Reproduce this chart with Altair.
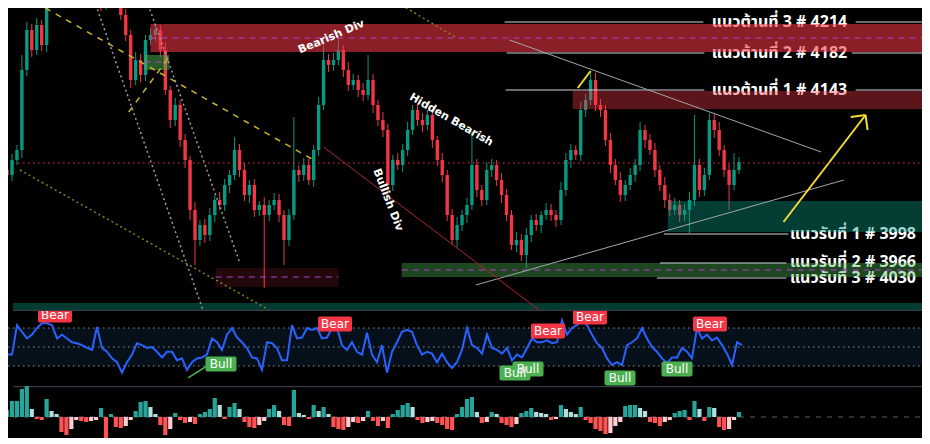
import altair as alt
import pandas as pd

# ---------------- data ----------------
first_open = 4066
closes = [
    4061, 4076, 4086, 4166, 4206, 4186, 4211, 4191, 4246, 4266,
    4276, 4271, 4286, 4276, 4291, 4281, 4266, 4256, 4246, 4231,
    4251, 4261, 4246, 4221, 4201, 4156, 4176, 4161, 4196, 4201,
    4206, 4186, 4146, 4116, 4131, 4096, 4076, 4026, 3996, 4011,
    4001, 4021, 4036, 4031, 4051, 4061, 4086, 4066, 4041, 4051,
    4026, 4031, 4021, 4031, 4036, 4021, 3996, 4021, 4066, 4061,
    4071, 4056, 4086, 4131, 4176, 4171, 4176, 4186, 4166, 4151,
    4156, 4146, 4141, 4156, 4131, 4116, 4106, 4051, 4076, 4071,
    4086, 4106, 4126, 4116, 4111, 4121, 4096, 4076, 4061, 4021,
    3996, 4011, 4021, 4031, 4071, 4046, 4036, 4066, 4071, 4056,
    4041, 4021, 3991, 3996, 3981, 4001, 4016, 4011, 4021, 4026,
    4021, 4016, 4046, 4076, 4086, 4081, 4126, 4136, 4156, 4131,
    4126, 4096, 4071, 4056, 4041, 4051, 4061, 4071, 4106, 4096,
    4086, 4066, 4051, 4036, 4026, 4031, 4021, 4026, 4036, 4071,
    4046, 4061, 4116, 4106, 4086, 4066, 4051, 4066, 4074,
]
wick_up = [
    4, 6, 5, 15, 8, 6, 7, 5, 6, 5,
    6, 5, 4, 6, 5, 7, 5, 6, 4, 8,
    5, 6, 4, 7, 6, 5, 8, 6, 5, 7,
    6, 5, 8, 4, 7, 5, 6, 4, 8, 5,
    6, 7, 5, 8, 6, 5, 13, 6, 7, 5,
    6, 4, 8, 5, 7, 6, 5, 6, 53, 5,
    7, 6, 5, 8, 20, 6, 7, 12, 5, 8,
    6, 5, 7, 25, 6, 5, 8, 6, 5, 7,
    6, 8, 5, 6, 7, 5, 6, 4, 7, 5,
    6, 8, 5, 7, 33, 6, 5, 8, 6, 5,
    7, 6, 5, 8, 6, 7, 5, 6, 4, 7,
    6, 5, 8, 7, 6, 5, 8, 6, 9, 7,
    6, 5, 7, 6, 8, 5, 7, 6, 8, 5,
    6, 7, 5, 8, 6, 7, 5, 6, 8, 50,
    6, 7, 7, 6, 8, 5, 6, 17, 5,
]
wick_dn = [
    30, 6, 5, 8, 6, 7, 5, 6, 7, 5,
    6, 7, 5, 6, 7, 5, 6, 5, 7, 6,
    5, 6, 7, 5, 6, 8, 5, 7, 6, 5,
    6, 7, 5, 8, 6, 7, 8, 10, 25, 6,
    8, 6, 7, 5, 6, 8, 5, 7, 6, 8,
    7, 6, 73, 6, 5, 7, 25, 6, 5, 7,
    6, 5, 7, 6, 5, 7, 6, 5, 7, 6,
    5, 7, 6, 5, 8, 6, 7, 8, 6, 5,
    7, 6, 5, 6, 7, 5, 8, 6, 7, 6,
    5, 7, 6, 8, 5, 7, 6, 5, 7, 6,
    8, 6, 5, 7, 6, 13, 7, 6, 8, 5,
    6, 7, 5, 6, 8, 5, 6, 7, 5, 6,
    7, 6, 8, 5, 7, 6, 5, 7, 6, 8,
    5, 7, 6, 8, 6, 5, 7, 6, 23, 6,
    7, 6, 5, 8, 6, 7, 25, 5, 4,
]
rsi = [
    34, 42, 42, 73, 66, 59, 63, 70, 75, 75,
    73, 59, 63, 59, 55, 54, 52, 49, 47, 71,
    49, 45, 38, 34, 23, 34, 42, 54, 52, 49,
    50, 45, 39, 45, 45, 36, 38, 26, 34, 38,
    39, 42, 59, 55, 47, 63, 70, 60, 55, 49,
    39, 38, 26, 55, 54, 49, 36, 36, 73, 59,
    60, 70, 68, 70, 59, 60, 70, 70, 52, 47,
    55, 45, 42, 65, 42, 34, 52, 23, 45, 55,
    66, 68, 66, 52, 42, 45, 43, 34, 43, 34,
    28, 34, 47, 70, 52, 49, 43, 63, 49, 47,
    43, 49, 36, 42, 39, 49, 59, 55, 55, 57,
    54, 55, 78, 63, 70, 73, 78, 73, 63, 54,
    49, 38, 31, 34, 31, 52, 55, 59, 70, 59,
    50, 45, 38, 33, 39, 39, 49, 45, 38, 70,
    59, 63, 57, 60, 52, 43, 31, 55, 52,
]
hist = [
    7, 16, 16, 28, 31, 8, -2, -3, 18, 6,
    3, -15, -18, -12, -3, -4, -5, -4, -3, 9,
    -21, 3, -10, -11, -9, -3, 6, 15, 16, 10,
    3, -8, -18, -12, 4, -3, -6, -5, -7, 3,
    5, 8, 19, 12, -2, 10, 14, 8, -5, -10,
    -11, -8, -4, 8, 12, 6, -8, -9, 27, 4,
    2, -2, 12, 6, 10, 3, -10, -12, -13, -10,
    -5, -6, -4, 6, -4, -9, -4, -11, 3, 7,
    12, 14, 10, -3, -6, -5, -4, -6, -8, -12,
    -13, 3, 10, 18, 20, 5, -6, -5, 5, 3,
    -6, -8, -10, -7, 4, 6, 9, 5, 4, 3,
    -3, -2, 12, 8, 5, 3, 10, -3, -6, -12,
    -14, -17, -16, -9, -5, 11, 12, 12, 9, 6,
    -5, -6, -9, -5, -3, 4, 6, 7, -3, 16,
    8, -4, 10, 9, -10, -13, -12, -3, 5,
]

# zones (bar index / price), drawn translucent over the candles
zone_x1 = [29, 27.8, 42.2, 79.8, 114.4, 133.6, 1.2]
zone_x2 = [185.6, 32.8, 67.0, 185.6, 185.2, 185.6, 185.6]
zone_top = [4212, 4181, 3968, 3973, 4145, 4035, 3933]
zone_bot = [4184, 4166, 3949, 3959, 4127, 4004, 3926]
zone_col = ["#f23645", "#4caf50", "#f23645", "#4caf50", "#f23645", "#089981", "#089981"]
zone_op = [0.57, 0.52, 0.14, 0.40, 0.38, 0.40, 0.39]

mid_x1 = [29, 27.8, 42.2, 79.8]
mid_x2 = [185.6, 32.8, 67.0, 185.6]
mid_y = [4198, 4174, 3959, 3966]

lev_x1 = [100.6, 171.6, 101.0, 170.8, 100.8, 171.6, 132.8, 132.0, 131.4]
lev_x2 = [140.8, 185.6, 141.0, 185.6, 141.0, 185.6, 158.0, 157.6, 157.6]
lev_y = [4214, 4214, 4183, 4183, 4146, 4146, 4002, 3973, 3958]

res_labels = ["แนวต้านที่ 3 # 4214", "แนวต้านที่ 2 # 4182", "แนวต้านที่ 1 # 4143"]
res_y = [4214, 4183, 4146]
sup_labels = ["แนวรับที่ 1 # 3998", "แนวรับที่ 2 # 3966", "แนวรับที่ 3 # 4030"]
sup_y = [4002, 3974, 3958]

# trend segments: x1, y1, x2, y2, style
seg_x1 = [101.6, 94.8, 157.0, 170.6, 173.6, 115.4, 64.0, 5.6, 24.6, 2.6, 78.0, 17.6, 28.2, 1.2]
seg_y1 = [4196, 3951, 4014, 4119, 4121, 4148, 4089, 4234, 4124, 4066, 4236, 4236, 4236, 4073]
seg_x2 = [164.6, 169.2, 173.6, 173.6, 174.0, 118.0, 107.6, 62.0, 32.6, 53.0, 90.6, 39.6, 47.0, 185.6]
seg_y2 = [4084, 4056, 4121, 4121, 4106, 4165, 3926, 4076, 4178, 3926, 4199, 3926, 3974, 4073]
seg_style = ["gray", "gray", "yellow", "yellow", "yellow", "yellow", "red",
             "ydash", "ydash", "olive", "olive", "gdot", "gdot", "price"]

notes = ["Bearish Div", "Hidden Bearish", "Bullish Div"]
note_x = [65.6, 89.8, 77.0]
note_y = [4199, 4116, 4036]
note_angle = [337, 30, 69]

lab_kind = ["Bear", "Bear", "Bull", "Bear", "Bear", "Bull", "Bull", "Bull", "Bull", "Bear"]
lab_x = [10.6, 66.6, 43.8, 109.2, 117.6, 102.6, 105.2, 123.6, 135.0, 141.6]
lab_v = [83.7, 74.2, 32.1, 66.8, 81.6, 22.6, 26.8, 17.4, 26.8, 74.2]

# ---------------- tables ----------------
n = len(closes)
opens = [first_open] + closes[:-1]
highs = [max(o, c) + u for o, c, u in zip(opens, closes, wick_up)]
lows = [min(o, c) - d for o, c, d in zip(opens, closes, wick_dn)]
candles = pd.DataFrame({
    "i": list(range(n)), "open": opens, "close": closes, "high": highs, "low": lows,
    "col": ["#089981" if c >= o else "#f23645" for o, c in zip(opens, closes)],
})
hcol = []
for k, v in enumerate(hist):
    p = hist[k - 1] if k > 0 else 0
    if v >= 0:
        hcol.append("#26a69a" if v >= p else "#b2dfdb")
    else:
        hcol.append("#ff5252" if v <= p else "#ffcdd2")
hdf = pd.DataFrame({"i": list(range(n)), "h": hist, "z": [0] * n, "col": hcol})
rdf = pd.DataFrame({"i": list(range(n)), "v": rsi})

zones = pd.DataFrame({"x1": zone_x1, "x2": zone_x2, "y1": zone_top, "y2": zone_bot,
                      "col": zone_col, "op": zone_op})
mids = pd.DataFrame({"x1": mid_x1, "x2": mid_x2, "y": mid_y})
levs = pd.DataFrame({"x1": lev_x1, "x2": lev_x2, "y": lev_y})
segs = pd.DataFrame({"x1": seg_x1, "y1": seg_y1, "x2": seg_x2, "y2": seg_y2, "s": seg_style})
resdf = pd.DataFrame({"t": res_labels, "x": [156.2] * 3, "y": res_y})
supdf = pd.DataFrame({"t": sup_labels, "x": [183.8] * 3, "y": sup_y})
notedf = pd.DataFrame({"t": notes, "x": note_x, "y": note_y, "a": note_angle})
hw = {"Bear": 3.4, "Bull": 3.1}
labdf = pd.DataFrame({
    "t": lab_kind, "x": lab_x, "v": lab_v,
    "x1": [x - hw[k] for x, k in zip(lab_x, lab_kind)],
    "x2": [x + hw[k] for x, k in zip(lab_x, lab_kind)],
    "v1": [v - 7.9 for v in lab_v], "v2": [v + 7.9 for v in lab_v],
    "col": ["#f23645" if k == "Bear" else "#4caf50" for k in lab_kind],
})

XS = alt.Scale(domain=[1.2, 184.0], nice=False, zero=False)
PS = alt.Scale(domain=[3925, 4228], nice=False, zero=False)
RS = alt.Scale(domain=[8.95, 87.9], nice=False, zero=False)
HS = alt.Scale(domain=[-21, 31], nice=False, zero=False)
W = 914
XL, XR = 1.2, 185.6


def X(f):
    return alt.X(f, type="quantitative", scale=XS, axis=None)


def Y(f, s):
    return alt.Y(f, type="quantitative", scale=s, axis=None)


# ---------------- main panel ----------------
zone_layer = alt.Chart(zones).mark_rect(clip=True).encode(
    x=X("x1"), x2="x2", y=Y("y1", PS), y2="y2",
    color=alt.Color("col:N", scale=None), opacity=alt.Opacity("op:Q", scale=None))
mid_layer = alt.Chart(mids).mark_rule(clip=True, color="#b43fd0", strokeDash=[6, 5], strokeWidth=1.2).encode(
    x=X("x1"), x2="x2", y=Y("y", PS))
lev_layer = alt.Chart(levs).mark_rule(clip=True, color="#d1d4dc", strokeWidth=1).encode(
    x=X("x1"), x2="x2", y=Y("y", PS))
wick_layer = alt.Chart(candles).mark_rule(clip=True, strokeWidth=1).encode(
    x=X("i"), y=Y("low", PS), y2="high", color=alt.Color("col:N", scale=None))
body_layer = alt.Chart(candles).mark_bar(clip=True, size=3.4).encode(
    x=X("i"), y=Y("open", PS), y2="close", color=alt.Color("col:N", scale=None))

styles = {
    "gray": dict(color="#a3a6ae", strokeWidth=1),
    "yellow": dict(color="#f0dc2e", strokeWidth=2),
    "red": dict(color="#b5232b", strokeWidth=1),
    "ydash": dict(color="#c9b52b", strokeWidth=1.5, strokeDash=[6, 6]),
    "olive": dict(color="#8c7f22", strokeWidth=1.5, strokeDash=[2, 3]),
    "gdot": dict(color="#a0a0a0", strokeWidth=1.5, strokeDash=[2, 3]),
    "price": dict(color="#f23645", strokeWidth=1, strokeDash=[1.5, 3.5]),
}
seg_layers = []
for name, st in styles.items():
    seg_layers.append(
        alt.Chart(segs).transform_filter(alt.datum.s == name).mark_rule(clip=True, **st).encode(
            x=X("x1"), x2="x2", y=Y("y1", PS), y2="y2"))

sep_top = alt.Chart(pd.DataFrame({"x1": [XL], "x2": [XR], "y": [3925.6]})).mark_rule(
    color="#363a45", strokeWidth=1.5, clip=True).encode(x=X("x1"), x2="x2", y=Y("y", PS))

FONT = "Noto Sans Thai, Noto Sans, DejaVu Sans, sans-serif"
res_text = alt.Chart(resdf).mark_text(clip=True, color="#ffffff", fontSize=16, fontWeight="bold",
                                      font=FONT, align="center", baseline="middle").encode(
    x=X("x"), y=Y("y", PS), text="t:N")
sup_text = alt.Chart(supdf).mark_text(clip=True, color="#ffffff", fontSize=16, fontWeight="bold",
                                      font=FONT, align="right", baseline="middle").encode(
    x=X("x"), y=Y("y", PS), text="t:N")
note_layers = []
for t, a in zip(notes, note_angle):
    note_layers.append(
        alt.Chart(notedf).transform_filter(alt.datum.t == t).mark_text(
            clip=True, color="#ffffff", fontSize=11, fontWeight="bold", font="DejaVu Sans",
            angle=a, align="center", baseline="middle").encode(x=X("x"), y=Y("y", PS), text="t:N"))

main = alt.layer(wick_layer, body_layer, res_text, sup_text, zone_layer, mid_layer, lev_layer,
                 *seg_layers, sep_top, *note_layers).properties(width=W, height=303)

# ---------------- RSI panel ----------------
band = alt.Chart(pd.DataFrame({"x1": [XL], "x2": [XR], "a": [30], "b": [70]})).mark_rect(
    color="#06101a", clip=True).encode(x=X("x1"), x2="x2", y=Y("a", RS), y2="b")
guides = alt.Chart(pd.DataFrame({"x1": [XL] * 3, "x2": [XR] * 3, "y": [70, 50, 30]})).mark_rule(
    color="#8a8d96", strokeDash=[1.5, 3.5], strokeWidth=1, clip=True).encode(x=X("x1"), x2="x2", y=Y("y", RS))
rsi_line = alt.Chart(rdf).mark_line(color="#2962ff", strokeWidth=2, clip=True).encode(x=X("i"), y=Y("v", RS))
pointer = alt.Chart(pd.DataFrame({"x1": [37.2], "y1": [17.4], "x2": [41.0], "y2": [30.0]})).mark_rule(
    color="#4caf50", strokeWidth=1.5, clip=True).encode(x=X("x1"), x2="x2", y=Y("y1", RS), y2="y2")
lab_box = alt.Chart(labdf).mark_rect(clip=True, cornerRadius=2).encode(
    x=X("x1"), x2="x2", y=Y("v1", RS), y2="v2", color=alt.Color("col:N", scale=None))
lab_txt = alt.Chart(labdf).mark_text(clip=True, color="#ffffff", fontSize=12, font="DejaVu Sans",
                                     align="center", baseline="middle").encode(
    x=X("x"), y=Y("v", RS), text="t:N")
rsi_panel = alt.layer(band, guides, rsi_line, pointer, lab_box, lab_txt).properties(width=W, height=75)

# ---------------- histogram panel ----------------
sep2 = alt.Chart(pd.DataFrame({"x1": [XL], "x2": [XR], "y": [30.4]})).mark_rule(
    color="#363a45", strokeWidth=1.5, clip=True).encode(x=X("x1"), x2="x2", y=Y("y", HS))
zero = alt.Chart(pd.DataFrame({"x1": [XL], "x2": [XR], "y": [0]})).mark_rule(
    color="#5d606b", strokeDash=[5, 6], strokeWidth=1, clip=True).encode(x=X("x1"), x2="x2", y=Y("y", HS))
hbars = alt.Chart(hdf).mark_bar(size=4.2, clip=True).encode(
    x=X("i"), y=Y("h", HS), y2="z", color=alt.Color("col:N", scale=None))
hist_panel = alt.layer(sep2, zero, hbars).properties(width=W, height=52)

chart = alt.vconcat(main, rsi_panel, hist_panel, spacing=0).properties(
    padding=0, background="#000000").configure_view(stroke=None)

chart.save("out.html", embed_options={"renderer": "svg", "actions": False})
